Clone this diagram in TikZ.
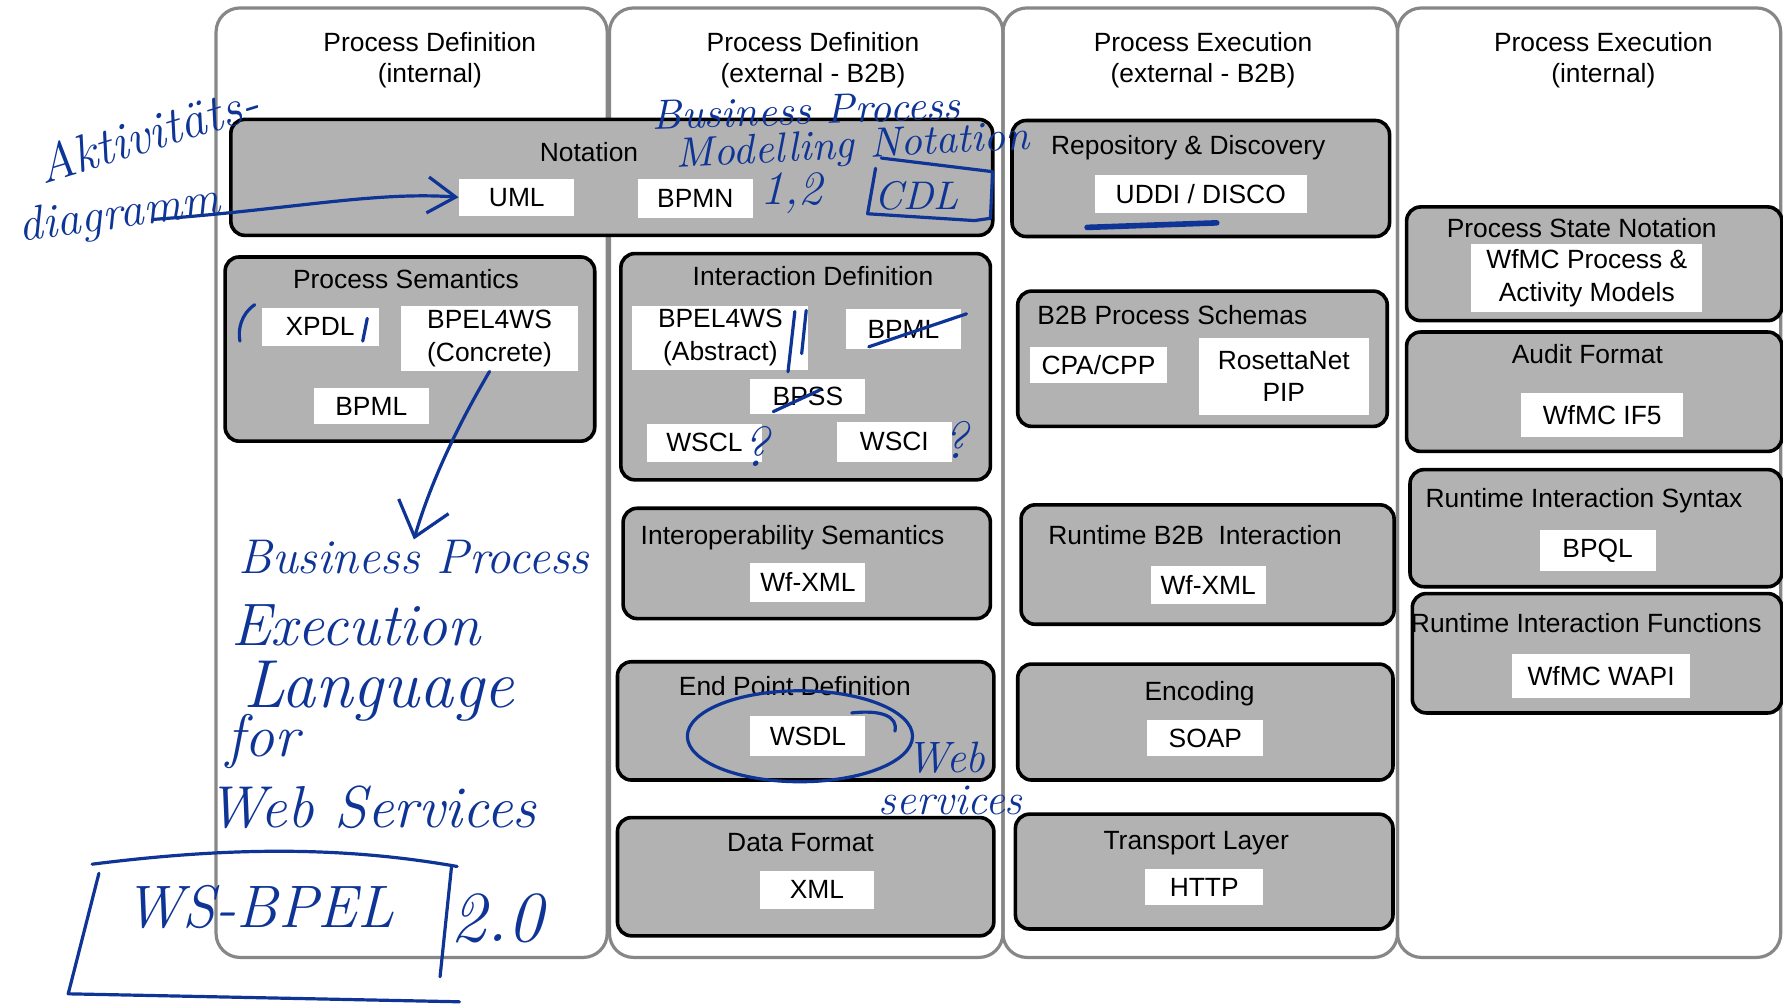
\documentclass[tikz,border=0pt]{standalone}
\usepackage{fontspec}
\usepackage{tikz}
\usetikzlibrary{arrows.meta,positioning,fit}
\newfontfamily\arialfont{Liberation Sans}
\newcommand{\hw}[1]{\normalfont\itshape\fontsize{#1}{#1}\selectfont}
\definecolor{ink}{RGB}{14,52,150}
\definecolor{layergray}{RGB}{178,178,178}
\definecolor{colgray}{RGB}{135,135,135}

\begin{document}
\begin{tikzpicture}[x=0.01cm,y=-0.01cm,
    col/.style={draw=colgray,line width=0.8pt,rounded corners=6pt},
    layer/.style={draw=black,fill=layergray,line width=0.9pt,rounded corners=3.5pt,inner sep=0pt},
    item/.style={fill=white,inner sep=0pt,align=center,font=\arialfont\fontsize{6.6}{8.2}\selectfont},
    ttl/.style={inner sep=0pt,font=\arialfont\fontsize{6.6}{7.9}\selectfont},
    hand/.style={text=ink,inner sep=0pt},
    pen/.style={draw=ink,line width=0.8pt,line cap=round,line join=round}]
  \useasboundingbox (0,0) rectangle (1568,883);
  % columns and their headings
  \foreach \nm/\xa/\xb/\xt/\hd in {
      hdA/190/534/378/{Process Definition\\(internal)},
      hdB/536/882/715/{Process Definition\\(external - B2B)},
      hdC/882/1229/1058/{Process Execution\\(external - B2B)},
      hdD/1229/1566/1410/{Process Execution\\(internal)}}{
    \draw[col] (\xa,7) rectangle (\xb,842);
    \node[ttl,align=center] (\nm) at (\xt,53) {\hd};
  }
  % grey layers
  \foreach \nm/\xa/\ya/\xb/\yb in {
      notation/203/105/873/207, psem/198/226/523/388, intdef/546/223/871/422,
      interop/548/447/871/544, endpt/543/582/874/686, data/543/719/874/823,
      repo/890/106/1222/208, bschema/895/256/1220/375, rtb2b/898/444/1226/549,
      enc/895/584/1225/686, trans/893/716/1225/817, psn/1237/182/1567/282,
      audit/1237/292/1567/397, risyn/1240/413/1567/516, rifun/1242/522/1567/627}
    \node[layer,fit={(\xa,\ya) (\xb,\yb)}] (\nm) {};
  \foreach \nm/\x/\y/\txt in {
      tnotation/518/134/Notation, tpsem/357/246/Process Semantics,
      tintdef/715/243/Interaction Definition, tinterop/697/471/Interoperability Semantics,
      tendpt/699/604/End Point Definition, tdata/704/741/Data Format,
      trepo/1045/128/Repository \& Discovery, tbschema/1031/277/B2B Process Schemas,
      trtb2b/1051/471/Runtime B2B\ \ Interaction, tenc/1055/608/Encoding,
      ttrans/1052/739/Transport Layer, tpsn/1391/201/Process State Notation,
      taudit/1396/312/Audit Format, trisyn/1393/438/Runtime Interaction Syntax,
      trifun/1395/548/Runtime Interaction Functions}
    \node[ttl,anchor=base] (\nm) at (\x,\y+8) {\txt};
  % white entries
  \foreach \nm/\xa/\ya/\xb/\yb/\txt in {
      uml/404/157/505/190/UML, bpmn/561/157/662/192/BPMN,
      xpdl/230/271/333/304/XPDL, bpelc/353/269/508/326/{BPEL4WS\\(Concrete)},
      bpmlA/276/341/377/373/BPML, bpela/556/269/711/325/{BPEL4WS\\(Abstract)},
      bpmlB/744/272/845/307/BPML, bpss/660/333/761/364/BPSS,
      wscl/569/373/670/406/WSCL, wsci/736/371/837/406/WSCI,
      wfxmlA/660/495/761/529/Wf-XML, wsdl/660/630/761/665/WSDL,
      xml/668/766/769/799/XML, uddi/963/154/1149/187/{UDDI / DISCO},
      cpa/906/305/1026/337/{CPA/CPP}, rosetta/1054/297/1204/365/{RosettaNet\\PIP},
      wfxmlB/1012/498/1113/531/Wf-XML, soap/1009/633/1111/665/SOAP,
      http/1007/764/1111/796/HTTP, wfmcpm/1294/215/1497/274/{WfMC Process \&\\Activity Models},
      if5/1338/346/1480/384/WfMC IF5, bpql/1354/466/1456/502/BPQL,
      wapi/1330/575/1486/614/WfMC WAPI}
    \node[item,minimum width={(\xb-\xa)*0.01cm},minimum height={(\yb-\ya)*0.01cm}]
      (\nm) at ({(\xa+\xb)/2},{(\ya+\yb)/2}) {\txt};
  % handwritten notes
  \node[hand,font={\hw{13}},rotate=17] (akt) at (130,117) {Aktivitäts-};
  \node[hand,font={\hw{12}},rotate=8] (diag) at (105,190) {diagramm};
  \coordinate (diagtail) at (134,193);
  \draw[pen,-{Straight Barb[length=7pt,width=9pt]}] (diagtail) .. controls (250,185) and (330,168) .. (uml.west);
  \node[hand,font={\hw{10.5}},rotate=2] (bpn1) at (709,97) {Business Process};
  \node[hand,font={\hw{10.5}},rotate=3] (bpn2) at (750,130) {Modelling Notation};
  \node[hand,font={\hw{12}}] (bpnver) at (696,170) {1,2};
  \node[hand,font={\hw{10}}] (cdl) at (806,172) {CDL};
  \draw[pen] (775,139) -- (873,151) -- (871,192) -- (857,194) -- (763,188) -- (770,148);
  \draw[pen] (224,268) .. controls (212,276) and (209,290) .. (211,300);
  \draw[pen] (323,280) -- (319,300);
  \draw[pen] (699,274) -- (693,327) (709,273) -- (705,311);
  \draw[pen] (764,305) -- (850,276);
  \draw[pen] (680,362) -- (721,343);
  \node[hand,font={\hw{14}}] (qwscl) at (664,393) {?};
  \node[hand,font={\hw{13}}] (qwsci) at (840,387) {?};
  \draw[pen,line width=1.4pt] (956,200) -- (1070,196);
  \draw[pen] ([xshift=-0.07cm]wsdl.center) ellipse [x radius=99, y radius=40];
  \draw[pen] (749,627) .. controls (775,624) and (790,630) .. (787,643);
  \node[hand,font={\hw{11}}] (web) at (832,666) {Web};
  \node[hand,font={\hw{11}}] (svc) at (836,704) {services};
  \node[hand,font={\hw{12.2}}] (bpe1) at (364,490) {Business Process};
  \node[hand,font={\hw{15}}] (bpe2) at (313,550) {Execution};
  \node[hand,font={\hw{17}}] (bpe3) at (333,608) {Language};
  \node[hand,font={\hw{15}}] (bpe4) at (231,652) {for};
  \node[hand,font={\hw{14.8}}] (bpe5) at (327,710) {Web Services};
  \draw[pen,-{Straight Barb[length=8pt,width=13pt]}] (bpelc.south) .. controls (405,370) and (380,420) .. (bpe1.north);
  \node[hand,font={\hw{15}}] (wsbpel) at (228,798) {WS-BPEL};
  \node[hand,font={\hw{18}}] (wsver) at (437,808) {2.0};
  \draw[pen] (81,760) .. controls (200,745) and (300,744) .. (402,762);
  \draw[pen] (87,768) -- (60,874) -- (404,881);
  \draw[pen] (397,763) -- (387,859);
\end{tikzpicture}
\end{document}
